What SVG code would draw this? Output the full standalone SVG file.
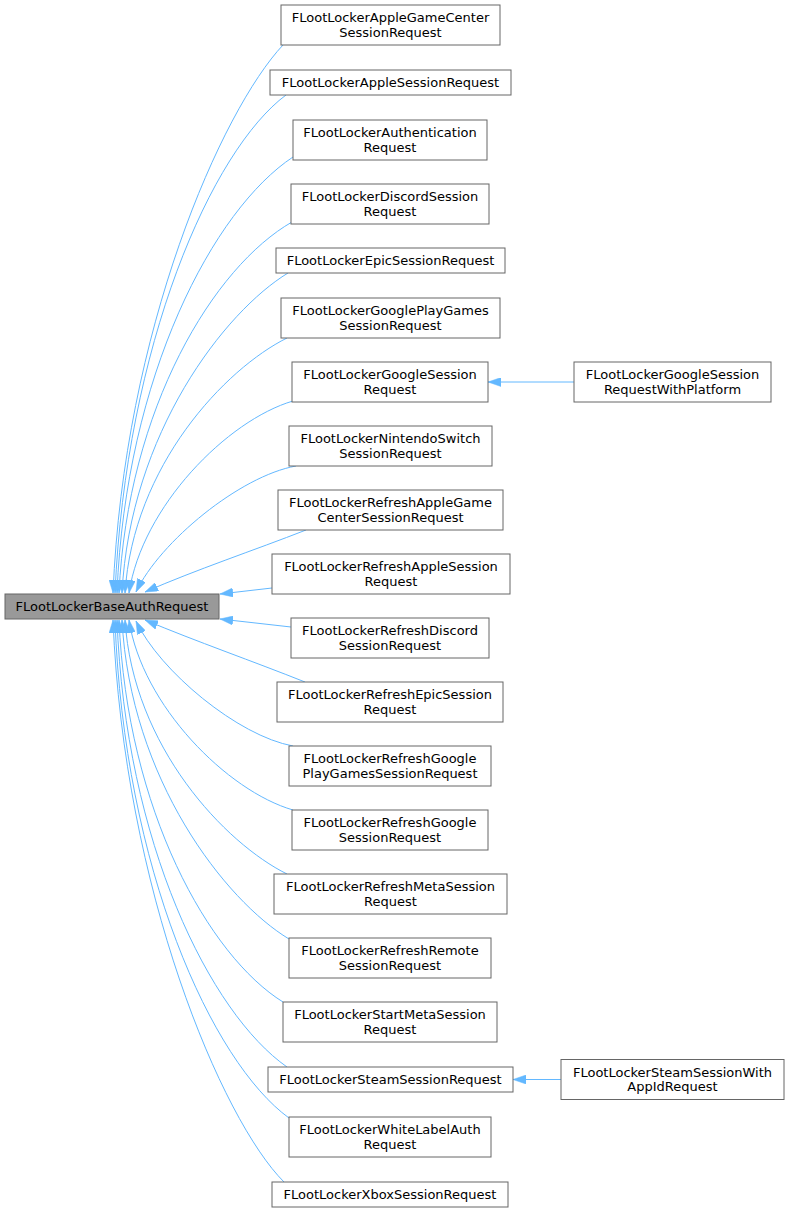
<svg xmlns="http://www.w3.org/2000/svg" width="789" height="1213" viewBox="0 0 789 1213">
<style>
.n rect{fill:#ffffff;stroke:#666666;stroke-width:1}
.b rect{fill:#999999;stroke:#666666;stroke-width:1}
text{font-family:"DejaVu Sans","Liberation Sans",sans-serif;font-size:13px;fill:#000000;text-anchor:middle}
.e path{fill:none;stroke:#63b8ff;stroke-width:1;marker-end:url(#ah)}
</style>
<defs>
<marker id="ah" viewBox="0 0 13 9" refX="13" refY="4.5" markerWidth="13" markerHeight="9" markerUnits="userSpaceOnUse" orient="auto">
<path d="M0,0 L13,4.5 L0,9 z" fill="#63b8ff" stroke="#63b8ff" stroke-width="0.5"/>
</marker>
</defs>
<rect width="789" height="1213" fill="#ffffff"/>
<g id="connectors" class="e">
<path d="M283,45 C222,110 124,330 113,593"/>
<path d="M286,95 C212,150 126,344 115,593"/>
<path d="M293,157 C213.8,209.3 125.8,375 117,593"/>
<path d="M292,222 C214.1,266.5 127.7,407.5 119,593"/>
<path d="M288,273 C224.9,311.4 130.3,433 122,593"/>
<path d="M287,338 C225.4,368.6 133.1,465.5 125,593"/>
<path d="M293,401 C227.4,420.2 142,506.6 129,593"/>
<path d="M296,466 C240,476 160,541.6 136,592"/>
<path d="M306,530 C255,550 195,570 145,592"/>
<path d="M272,588 L220,594"/>
<path d="M291,627 L220,619"/>
<path d="M305,682 C255,662 195,641 145,620"/>
<path d="M293,746 C238,736 159.6,671 136,621"/>
<path d="M293,810 C227.4,791 142,705.5 129,620"/>
<path d="M287,874 C225.4,843.5 133.1,747 125,620"/>
<path d="M289,939 C225.5,900.7 130.4,779.5 122,620"/>
<path d="M283,1002 C209.2,956.2 127.2,811 119,620"/>
<path d="M287,1067 C210.5,1013.4 125.5,843.5 117,620"/>
<path d="M289,1118 C212,1062 124,869 115,620"/>
<path d="M284,1182 C222,1120 124,890 113,620"/>
<path d="M574,382 L488,382"/>
<path d="M561,1079.5 L513,1079.5"/>
</g>
<g id="base" class="b"><rect x="5" y="594" width="214" height="25"/><text x="112" y="610.5">FLootLockerBaseAuthRequest</text></g>
<g id="n1" class="n"><rect x="281" y="5" width="219" height="40"/><text x="390.5" y="22">FLootLockerAppleGameCenter</text><text x="390.5" y="36.5">SessionRequest</text></g>
<g id="n2" class="n"><rect x="270" y="70" width="241" height="25"/><text x="390.5" y="86.5">FLootLockerAppleSessionRequest</text></g>
<g id="n3" class="n"><rect x="293" y="120" width="194" height="40"/><text x="390" y="137">FLootLockerAuthentication</text><text x="390" y="151.5">Request</text></g>
<g id="n4" class="n"><rect x="291" y="184" width="198" height="40"/><text x="390" y="201">FLootLockerDiscordSession</text><text x="390" y="215.5">Request</text></g>
<g id="n5" class="n"><rect x="276" y="248" width="229" height="25"/><text x="390.5" y="264.5">FLootLockerEpicSessionRequest</text></g>
<g id="n6" class="n"><rect x="281" y="298" width="219" height="40"/><text x="390.5" y="315">FLootLockerGooglePlayGames</text><text x="390.5" y="329.5">SessionRequest</text></g>
<g id="n7" class="n"><rect x="292" y="362" width="196" height="40"/><text x="390" y="379">FLootLockerGoogleSession</text><text x="390" y="393.5">Request</text></g>
<g id="n7b" class="n"><rect x="574" y="362" width="197" height="40"/><text x="672.5" y="379">FLootLockerGoogleSession</text><text x="672.5" y="393.5">RequestWithPlatform</text></g>
<g id="n8" class="n"><rect x="289" y="426" width="203" height="40"/><text x="390.5" y="443">FLootLockerNintendoSwitch</text><text x="390.5" y="457.5">SessionRequest</text></g>
<g id="n9" class="n"><rect x="278" y="490" width="225" height="40"/><text x="390.5" y="507">FLootLockerRefreshAppleGame</text><text x="390.5" y="521.5">CenterSessionRequest</text></g>
<g id="n10" class="n"><rect x="272" y="554" width="238" height="40"/><text x="391" y="571">FLootLockerRefreshAppleSession</text><text x="391" y="585.5">Request</text></g>
<g id="n11" class="n"><rect x="291" y="618" width="198" height="40"/><text x="390" y="635">FLootLockerRefreshDiscord</text><text x="390" y="649.5">SessionRequest</text></g>
<g id="n12" class="n"><rect x="277" y="682" width="226" height="40"/><text x="390" y="699">FLootLockerRefreshEpicSession</text><text x="390" y="713.5">Request</text></g>
<g id="n13" class="n"><rect x="289" y="746" width="202" height="40"/><text x="390" y="763">FLootLockerRefreshGoogle</text><text x="390" y="777.5">PlayGamesSessionRequest</text></g>
<g id="n14" class="n"><rect x="292" y="810" width="196" height="40"/><text x="390" y="827">FLootLockerRefreshGoogle</text><text x="390" y="841.5">SessionRequest</text></g>
<g id="n15" class="n"><rect x="274" y="874" width="233" height="40"/><text x="390.5" y="891">FLootLockerRefreshMetaSession</text><text x="390.5" y="905.5">Request</text></g>
<g id="n16" class="n"><rect x="289" y="938" width="202" height="40"/><text x="390" y="955">FLootLockerRefreshRemote</text><text x="390" y="969.5">SessionRequest</text></g>
<g id="n17" class="n"><rect x="283" y="1002" width="214" height="40"/><text x="390" y="1019">FLootLockerStartMetaSession</text><text x="390" y="1033.5">Request</text></g>
<g id="n18" class="n"><rect x="268" y="1067" width="245" height="25"/><text x="390.5" y="1083.5">FLootLockerSteamSessionRequest</text></g>
<g id="n18b" class="n"><rect x="561" y="1059.5" width="223" height="40"/><text x="672.5" y="1076.5">FLootLockerSteamSessionWith</text><text x="672.5" y="1091">AppIdRequest</text></g>
<g id="n19" class="n"><rect x="289" y="1117" width="202" height="40"/><text x="390" y="1134">FLootLockerWhiteLabelAuth</text><text x="390" y="1148.5">Request</text></g>
<g id="n20" class="n"><rect x="272" y="1182" width="236" height="25"/><text x="390" y="1198.5">FLootLockerXboxSessionRequest</text></g>
</svg>
